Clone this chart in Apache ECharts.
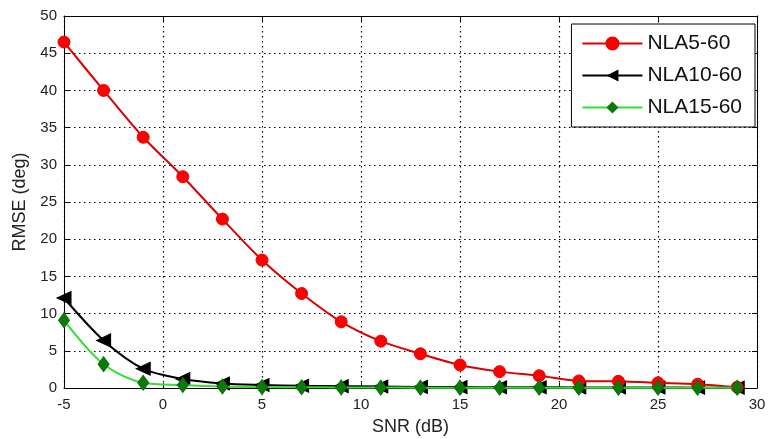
<!DOCTYPE html>
<html><head><meta charset="utf-8">
<script src="https://cdn.jsdelivr.net/npm/echarts@6/dist/echarts.min.js"></script>
<style>html,body{margin:0;padding:0;background:#fff}#c{width:768px;height:439px}</style>
</head><body><div id="c"></div>
<script>
const snr = [-5,-3,-1,1,3,5,7,9,11,13,15,17,19,21,23,25,27,29];
const nla5 = [46.5,40.0,33.7,28.4,22.7,17.2,12.7,8.9,6.3,4.6,3.1,2.2,1.65,0.95,0.9,0.7,0.5,0.1];
const nla10 = [12.1,6.4,2.6,1.2,0.6,0.4,0.3,0.25,0.2,0.15,0.12,0.1,0.1,0.08,0.08,0.06,0.05,0.05];
const nla15 = [9.1,3.2,0.7,0.4,0.2,0.12,0.1,0.08,0.06,0.05,0.05,0.04,0.04,0.03,0.03,0.03,0.03,0.03];
const names = ['NLA5-60','NLA10-60','NLA15-60'];
const xTicks = {min:-5,max:30,interval:5};
const yTicks = {min:0,max:50,interval:5};

const pairs = a => snr.map((x,i)=>[x,a[i]]);
const font = 'Liberation Sans, Arial, sans-serif';
const axisCommon = {
  axisLine:{show:true,onZero:false,lineStyle:{color:'#000',width:1}},
  axisTick:{show:true,inside:true,length:5,lineStyle:{color:'#000'}},
};
const grid = {show:true,lineStyle:{color:'#000',type:[1.5,3.5],width:1.2}};
const chart = echarts.init(document.getElementById('c'));
chart.setOption({
  animation:false,
  backgroundColor:'#fff',
  grid:{left:64,right:11,top:16,bottom:51,containLabel:false,outerBoundsMode:'none'},
  legend:{
    data:names, orient:'vertical', right:13, top:24,
    itemWidth:60, itemHeight:15, itemGap:11, itemTextGap:6,
    padding:[9,13,9,10],
    borderColor:'#000', borderWidth:1, backgroundColor:'#fff',
    textStyle:{fontFamily:font,fontSize:21,color:'#111'}
  },
  xAxis:[{
    type:'value', ...xTicks, position:'bottom',
    name:'SNR (dB)', nameLocation:'middle', nameGap:30,
    nameTextStyle:{fontFamily:font,fontSize:18,color:'#222'},
    axisLabel:{fontFamily:font,fontSize:15,color:'#222',margin:9},
    splitLine:grid,
    ...axisCommon
  },{
    type:'value', ...xTicks, position:'top',
    axisLabel:{show:false}, splitLine:{show:false}, ...axisCommon
  }],
  yAxis:[{
    type:'value', ...yTicks, position:'left',
    name:'RMSE (deg)', nameLocation:'middle', nameGap:35,
    nameTextStyle:{fontFamily:font,fontSize:18,color:'#222'},
    axisLabel:{fontFamily:font,fontSize:15,color:'#222',margin:7},
    splitLine:grid,
    ...axisCommon
  },{
    type:'value', ...yTicks, position:'right',
    axisLabel:{show:false}, splitLine:{show:false}, ...axisCommon
  }],
  series:[
    {name:names[0],type:'line',data:pairs(nla5),smooth:0.3,
     symbol:'circle',symbolSize:12,
     lineStyle:{color:'#dd0000',width:2},
     itemStyle:{color:'#ff0000',borderColor:'#ee0000',borderWidth:1},z:3},
    {name:names[1],type:'line',data:pairs(nla10),smooth:0.3,
     symbol:'triangle',symbolRotate:90,symbolSize:[13,14],
     lineStyle:{color:'#000',width:2},
     itemStyle:{color:'#000',borderColor:'#000'},z:2},
    {name:names[2],type:'line',data:pairs(nla15),smooth:0.3,
     symbol:'diamond',symbolSize:[11,15],
     lineStyle:{color:'#33dd33',width:2},
     itemStyle:{color:'#0b7a0b',borderColor:'#0b6f0b'},z:4}
  ]
});
</script></body></html>
